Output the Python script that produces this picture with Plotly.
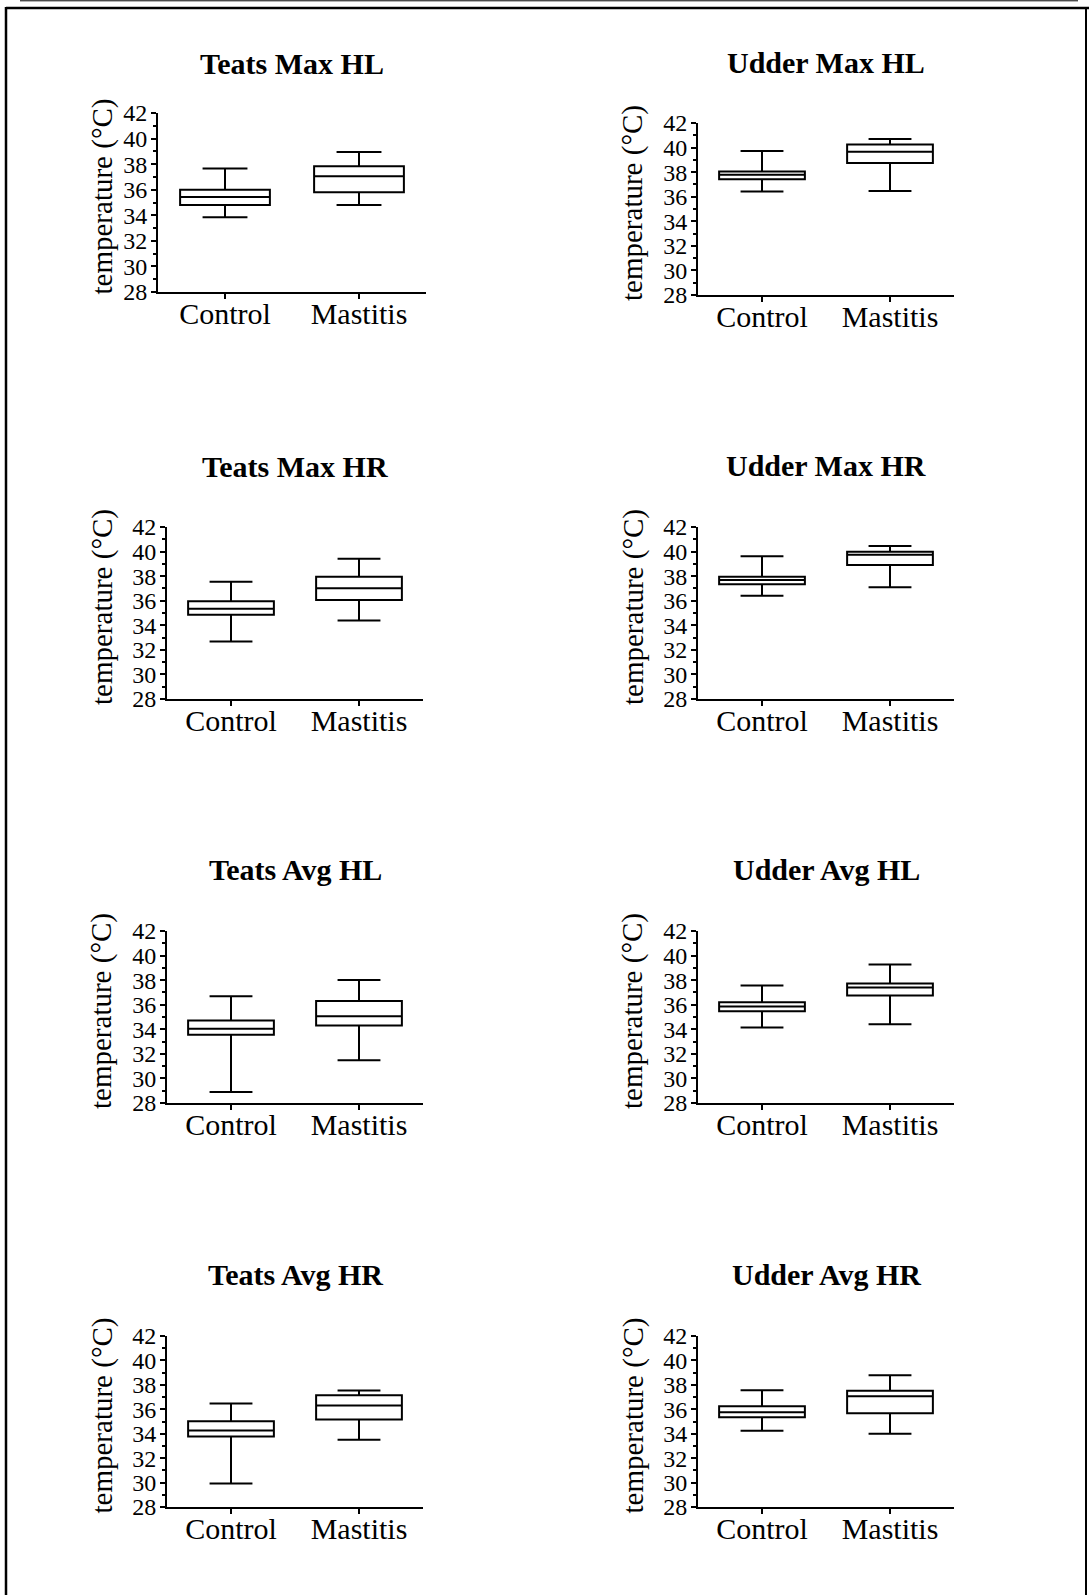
import plotly.graph_objects as go

# Figure size in pixels
W, H = 1089, 1595

groups = ["Control", "Mastitis"]

titles = ["Teats Max HL", "Udder Max HL",
          "Teats Max HR", "Udder Max HR",
          "Teats Avg HL", "Udder Avg HL",
          "Teats Avg HR", "Udder Avg HR"]

# Box statistics per panel, [Control, Mastitis]
upper = [[37.65, 38.95], [39.72, 40.70],
         [37.55, 39.42], [39.61, 40.45],
         [36.69, 38.02], [37.56, 39.27],
         [36.47, 37.53], [37.56, 38.79]]
q3 = [[36.00, 37.83], [38.06, 40.26],
      [35.95, 37.96], [37.96, 39.99],
      [34.72, 36.31], [36.21, 37.72],
      [35.03, 37.15], [36.25, 37.51]]
median = [[35.43, 37.05], [37.79, 39.66],
          [35.35, 37.01], [37.69, 39.75],
          [34.04, 35.07], [35.85, 37.40],
          [34.26, 36.31], [35.76, 37.07]]
q1 = [[34.80, 35.80], [37.43, 38.74],
      [34.86, 36.06], [37.33, 38.91],
      [33.55, 34.31], [35.47, 36.75],
      [33.77, 35.16], [35.35, 35.68]]
lower = [[33.84, 34.80], [36.43, 36.46],
         [32.69, 34.38], [36.41, 37.09],
         [28.90, 31.47], [34.15, 34.42],
         [29.93, 33.50], [34.24, 33.99]]

y_ticks = [28, 30, 32, 34, 36, 38, 40, 42]

# Plot areas in pixels: (left, right, top, bottom)
areas = [(158, 426, 113, 292), (698, 954, 123, 295),
         (167, 423, 527, 699), (698, 954, 527, 699),
         (167, 423, 931, 1103), (698, 954, 931, 1103),
         (167, 423, 1336, 1507), (698, 954, 1336, 1507)]
title_y = [63, 62, 466, 465, 870, 870, 1274, 1274]
ylabel_x = [102, 633, 102, 633, 102, 633, 102, 633]

FONT = "Liberation Serif, Times New Roman, serif"


def px(x):
    return x / W


def py(y):
    return 1 - y / H


fig = go.Figure()
layout = {}
annotations = []

for i in range(8):
    n = "" if i == 0 else str(i + 1)
    l, r, t, b = areas[i]
    fig.add_trace(go.Box(
        x=groups, q1=q1[i], median=median[i], q3=q3[i],
        lowerfence=lower[i], upperfence=upper[i],
        xaxis="x" + n, yaxis="y" + n,
        fillcolor="white", line=dict(color="black", width=2),
        width=0.67, whiskerwidth=0.5, boxpoints=False,
        showlegend=False, hoverinfo="skip",
    ))
    layout["xaxis" + n] = dict(
        domain=[px(l), px(r)], anchor="y" + n, automargin=False,
        range=[-0.5, 1.5], showline=True, linecolor="black", linewidth=2,
        ticks="outside", ticklen=5, tickwidth=2, tickcolor="black",
        ticklabelstandoff=-11,
        showgrid=False, zeroline=False, fixedrange=True,
        tickfont=dict(family=FONT, size=30, color="black"),
    )
    layout["yaxis" + n] = dict(
        domain=[py(b), py(t)], anchor="x" + n, automargin=False,
        range=[28, 42], tickvals=y_ticks,
        showline=True, linecolor="black", linewidth=2,
        ticks="outside", ticklen=5, tickwidth=2, tickcolor="black",
        ticklabelstandoff=-1,
        minor=dict(dtick=1, ticks="outside", ticklen=3, tickwidth=1.5,
                   tickcolor="black", showgrid=False),
        showgrid=False, zeroline=False, fixedrange=True,
        tickfont=dict(family=FONT, size=24, color="black"),
    )
    # Panel heading
    annotations.append(dict(
        text="<b>" + titles[i] + "</b>", xref="paper", yref="paper",
        x=px((l + r) / 2), y=py(title_y[i]), xanchor="center", yanchor="middle",
        showarrow=False, font=dict(family=FONT, size=30, color="black"),
    ))
    # Y axis label
    annotations.append(dict(
        text="temperature (°C)", xref="paper", yref="paper",
        x=px(ylabel_x[i]), y=py((t + b) / 2 - 6),
        xanchor="center", yanchor="middle",
        textangle=-90, showarrow=False,
        font=dict(family=FONT, size=29, color="black"),
    ))

# Page frame lines
shapes = [
    dict(type="line", xref="paper", yref="paper",
         x0=px(20), x1=px(1078), y0=py(0.8), y1=py(0.8),
         line=dict(color="black", width=1)),
    dict(type="line", xref="paper", yref="paper",
         x0=px(6), x1=px(1089), y0=py(8), y1=py(8),
         line=dict(color="black", width=2.5)),
    dict(type="line", xref="paper", yref="paper",
         x0=px(6), x1=px(6), y0=py(7), y1=py(1595),
         line=dict(color="black", width=2.5)),
    dict(type="line", xref="paper", yref="paper",
         x0=px(1086), x1=px(1086), y0=py(7), y1=py(1595),
         line=dict(color="black", width=2)),
]

fig.update_layout(
    width=W, height=H, margin=dict(l=0, r=0, t=0, b=0, pad=0),
    paper_bgcolor="white", plot_bgcolor="white",
    annotations=annotations, shapes=shapes,
    **layout,
)

fig.write_html("out.html", config={"displayModeBar": False})
